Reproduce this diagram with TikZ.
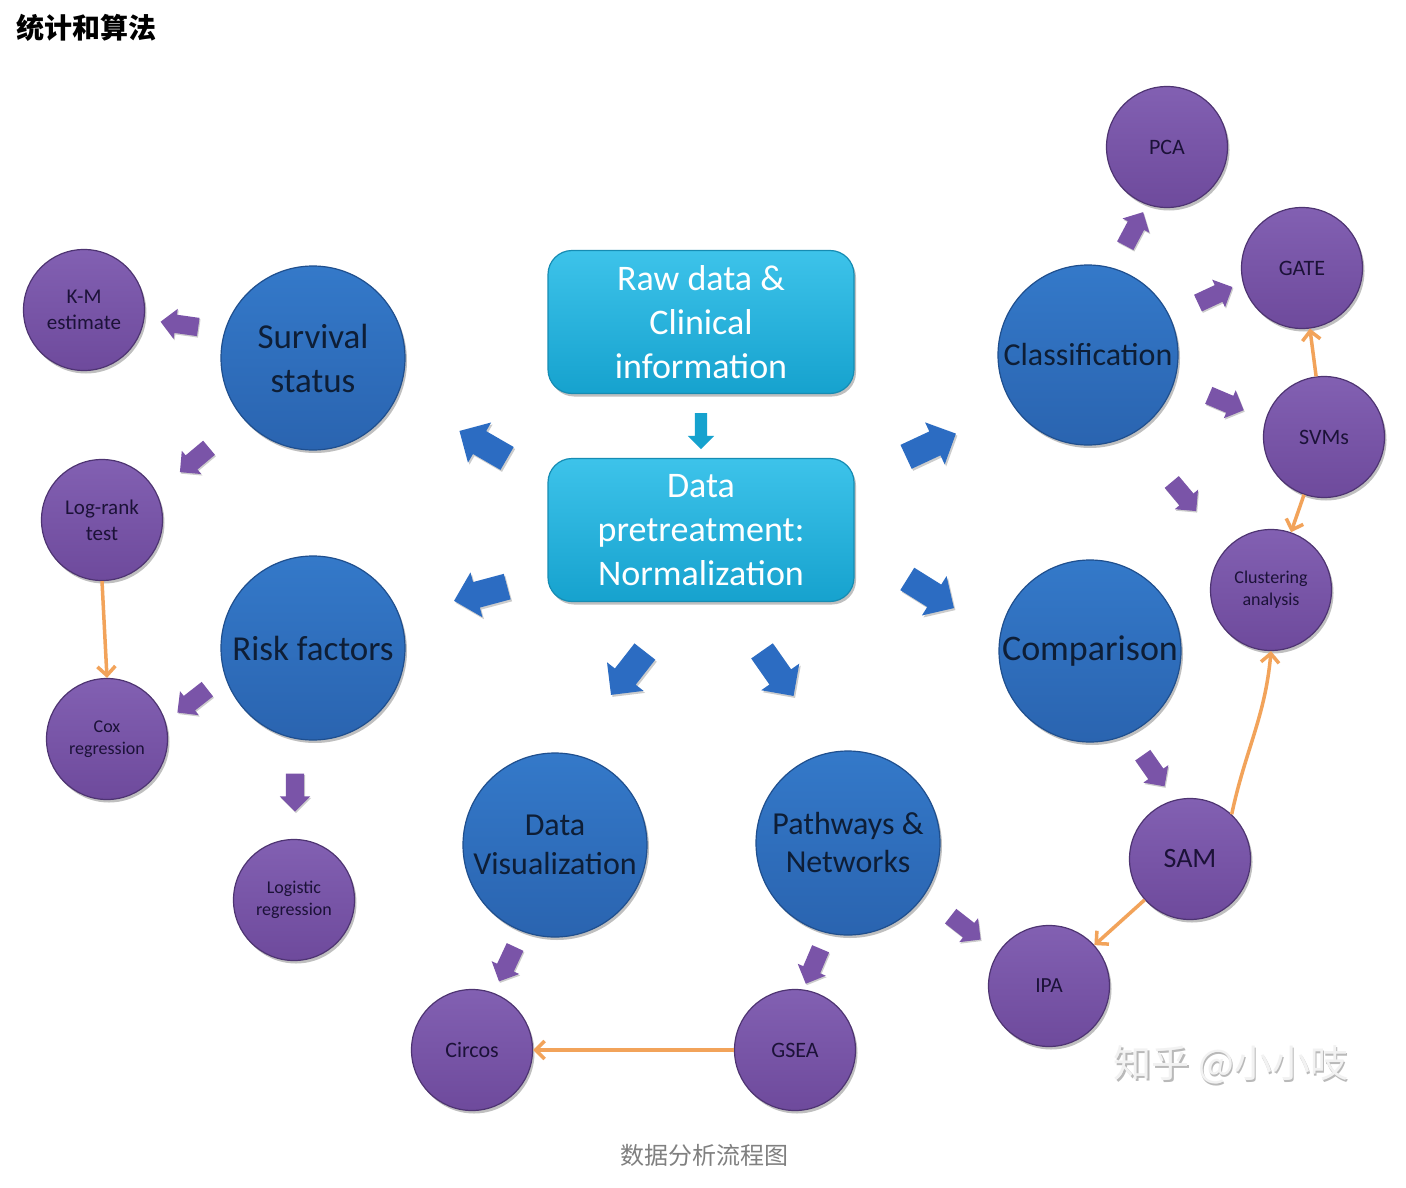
\documentclass[tikz,border=0pt]{standalone}
\usepackage{fontspec}
\setmainfont{Carlito}
\newfontfamily\cjk{Noto Sans CJK SC}
\usetikzlibrary{shapes.arrows,shadows,arrows.meta}
\definecolor{blueT}{HTML}{3479C9}
\definecolor{blueB}{HTML}{2A64B0}
\definecolor{blueD}{HTML}{1F4F8E}
\definecolor{purT}{HTML}{8260B2}
\definecolor{purB}{HTML}{6E4A9C}
\definecolor{purD}{HTML}{4E3472}
\definecolor{purA}{HTML}{7A54A8}
\definecolor{cyanT}{HTML}{3DC3EA}
\definecolor{cyanB}{HTML}{16A2CE}
\definecolor{cyanD}{HTML}{168CB3}
\definecolor{orangeC}{HTML}{F2A35A}
\definecolor{txtblue}{HTML}{0E1E36}
\definecolor{txtpur}{HTML}{1C1238}
\definecolor{arrblue}{HTML}{2C6CC2}
\begin{document}
\begin{tikzpicture}[x=1pt,y=-1pt,
  shad/.style={drop shadow={shadow xshift=2pt,shadow yshift=-3pt,opacity=0.25,fill=black}},
  bigc/.style={circle,minimum size=184pt,inner sep=0pt,draw=blueD,line width=1.2pt,
    top color=blueT,bottom color=blueB,text=txtblue,align=center,shad},
  smallc/.style={circle,minimum size=121pt,inner sep=0pt,draw=purD,line width=1.2pt,
    top color=purT,bottom color=purB,text=txtpur,align=center,shad},
  cbox/.style={rectangle,rounded corners=24pt,minimum width=306pt,minimum height=143pt,
    inner sep=0pt,draw=cyanD,line width=1.2pt,top color=cyanT,bottom color=cyanB,
    text=white,align=center,font=\fontsize{36}{44}\selectfont,shad},
  barrow/.style={single arrow,fill=arrblue,draw=none,inner xsep=0pt,inner ysep=13pt,
    minimum height=55pt,single arrow head extend=10pt,
    drop shadow={shadow xshift=1.5pt,shadow yshift=-2pt,opacity=0.2,fill=black}},
  carrow/.style={single arrow,fill=cyanB,draw=none,inner xsep=0pt,inner ysep=6pt,
    minimum height=36pt,single arrow head extend=7pt},
  parrow/.style={single arrow,fill=purA,draw=none,inner xsep=0pt,inner ysep=9pt,
    minimum height=38pt,single arrow head extend=6pt,
    drop shadow={shadow xshift=1pt,shadow yshift=-1.5pt,opacity=0.2,fill=black}},
  oarr/.style={draw=orangeC,line width=3.5pt,-{Straight Barb[length=9pt,width=18pt]}}
]
\useasboundingbox[fill=white] (0,0) rectangle (1406,1188);

% title and caption
\node[anchor=west,font=\cjk\bfseries\fontsize{28}{30}\selectfont,text=black] (title) at (13,28) {统计和算法};
\node[font=\cjk\fontsize{24}{26}\selectfont,text=gray] (caption) at (704,1155) {数据分析流程图};

% central boxes
\node[cbox] (raw) at (701,322) {Raw data \&\\Clinical\\information};
\node[cbox] (pre) at (701,530) {Data\\pretreatment:\\Normalization};

% big circles
\node[bigc,font=\fontsize{35}{44}\selectfont] (surv) at (313,358) {Survival\\status};
\node[bigc,font=\fontsize{35}{44}\selectfont] (risk) at (313,648) {Risk factors};
\node[bigc,font=\fontsize{32}{39}\selectfont] (vis) at (555,845) {Data\\Visualization};
\node[bigc,font=\fontsize{32}{38}\selectfont] (path) at (848,843) {Pathways \&\\Networks};
\node[bigc,minimum size=180pt,font=\fontsize{32}{38}\selectfont] (cls) at (1088,355) {Classification};
\node[bigc,minimum size=182pt,font=\fontsize{36}{40}\selectfont] (cmp) at (1090,651) {Comparison};

% small circles
\node[smallc,font=\fontsize{21}{26}\selectfont] (km) at (84,310) {K-M\\estimate};
\node[smallc,font=\fontsize{21}{26}\selectfont] (lr) at (102,520) {Log-rank\\test};
\node[smallc,font=\fontsize{18}{22}\selectfont] (cox) at (107,739) {Cox\\regression};
\node[smallc,font=\fontsize{18}{22}\selectfont] (logi) at (294,900) {Logistic\\regression};
\node[smallc,font=\fontsize{22}{26}\selectfont] (circ) at (472,1050) {Circos};
\node[smallc,font=\fontsize{22}{26}\selectfont] (gsea) at (795,1050) {GSEA};
\node[smallc,font=\fontsize{21.5}{26}\selectfont] (ipa) at (1049,986) {IPA};
\node[smallc,font=\fontsize{28}{30}\selectfont] (sam) at (1190,859) {SAM};
\node[smallc,font=\fontsize{18}{22}\selectfont] (clu) at (1271,590) {Clustering\\analysis};
\node[smallc,font=\fontsize{22}{26}\selectfont] (svm) at (1324,437) {SVMs};
\node[smallc,font=\fontsize{22}{26}\selectfont] (gate) at (1302,268) {GATE};
\node[smallc,font=\fontsize{22}{26}\selectfont] (pca) at (1167,147) {PCA};

% block arrows (blue)
\node[carrow,rotate=-90] (a0) at (701,428) {};
\node[barrow,rotate=150] (a1) at (489,448) {};
\node[barrow,rotate=195] (a2) at (487,592) {};
\node[barrow,rotate=25] (a3) at (925,448) {};
\node[barrow,rotate=-32] (a4) at (925,590) {};
\node[barrow,rotate=232] (a5) at (632,668) {};
\node[barrow,rotate=-55] (a6) at (774,668) {};

% block arrows (purple)
\node[parrow,rotate=172] (p1) at (184,325) {};
\node[parrow,rotate=220] (p2) at (198,457) {};
\node[parrow,rotate=218] (p3) at (196,698) {};
\node[parrow,rotate=-90] (p4) at (295,788) {};
\node[parrow,rotate=245] (p5) at (509,960) {};
\node[parrow,rotate=247] (p6) at (815,962) {};
\node[parrow,rotate=-38] (p7) at (962,925) {};
\node[parrow,rotate=-55] (p8) at (1151,767) {};
\node[parrow,rotate=-50] (p9) at (1181,493) {};
\node[parrow,rotate=-23] (p10) at (1222,401) {};
\node[parrow,rotate=25] (p11) at (1211,297) {};
\node[parrow,rotate=62] (p12) at (1132,233) {};

% orange connectors
\draw[oarr] (lr.south) -- (cox.north);
\draw[oarr] (gsea.west) -- (circ.east);
\draw[oarr] (sam) -- (ipa);
\draw[oarr] (svm) -- (gate);
\draw[oarr] (svm) -- (clu);
\draw[oarr] (sam.47) to[out=78,in=-95] (clu.south);

% watermark
\node[font=\cjk\fontsize{38}{40}\selectfont,text=gray!55] (wms) at (1232.5,1066.5) {知乎 @小小吱};
\node[font=\cjk\fontsize{38}{40}\selectfont,text=gray!10] (wm) at (1231,1065) {知乎 @小小吱};
\end{tikzpicture}
\end{document}
